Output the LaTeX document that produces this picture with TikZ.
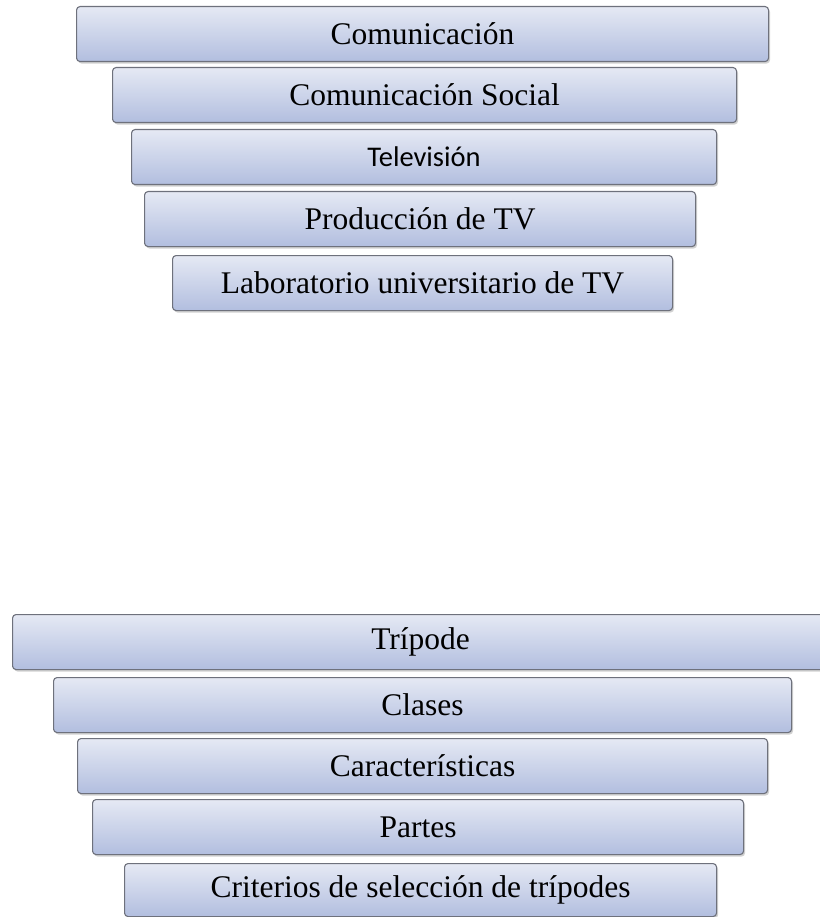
\documentclass[tikz,border=0pt]{standalone}
\usepackage{fontspec}
\setmainfont{Liberation Serif}
\newfontfamily\calibrifont{Carlito}
\usetikzlibrary{shadows}
\definecolor{BoxTop}{HTML}{E5E9F4}
\definecolor{BoxBottom}{HTML}{B2BEDF}
\definecolor{BoxLine}{HTML}{6E717C}

\begin{document}
\begin{tikzpicture}[
    x=1pt, y=-1pt,
    capa/.style={
        draw=BoxLine, line width=1.1pt, rounded corners=3.5pt,
        top color=BoxTop, bottom color=BoxBottom,
        drop shadow={shadow xshift=1.5pt, shadow yshift=-2pt, opacity=0.3, fill=black!60},
        minimum height=55pt, inner sep=0pt, anchor=north west,
        font=\fontsize{31.5}{36}\selectfont
    }
]
\useasboundingbox (0,0) rectangle (819,917);

% =============================================
% Upper funnel
% =============================================
\node[capa, minimum width=692pt] (com)   at (76,6)    {Comunicación};
\node[capa, minimum width=624pt] (comsoc) at (112,67) {Comunicación Social};
\node[capa, minimum width=585pt, font=\calibrifont\fontsize{28.5}{34}\selectfont]
      (tele)  at (131,129) {Televisión};
\node[capa, minimum width=551pt] (prod)  at (144,191) {Producción de TV};
\node[capa, minimum width=500pt] (lab)   at (172,255) {Laboratorio universitario de TV};

% =============================================
% Lower funnel
% =============================================
\node[capa, minimum width=816pt] (trip)  at (12,614)  {Trípode};
\node[capa, minimum width=738pt] (clas)  at (53,677)  {Clases};
\node[capa, minimum width=690pt] (car)   at (77,738)  {Características};
\node[capa, minimum width=651pt] (part)  at (92,799)  {Partes};
\node[capa, minimum width=592pt, minimum height=53pt] (crit) at (124,863) {Criterios de selección de trípodes};

\end{tikzpicture}
\end{document}
